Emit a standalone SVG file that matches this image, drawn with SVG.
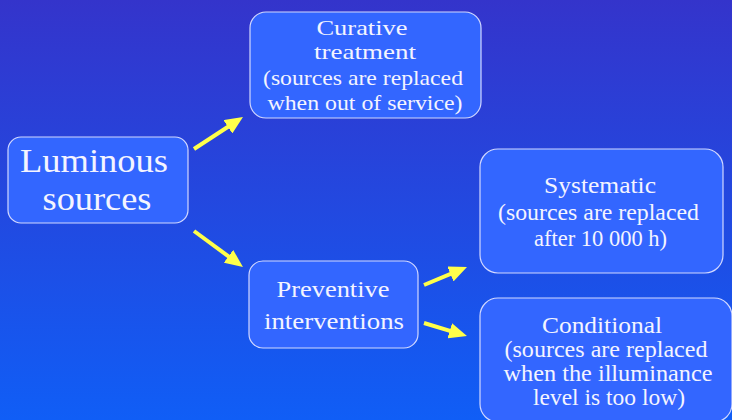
<svg xmlns="http://www.w3.org/2000/svg" width="732" height="420" viewBox="0 0 732 420">
  <defs>
    <linearGradient id="bg" x1="0" y1="0" x2="0" y2="1">
      <stop offset="0" stop-color="#3434CB"/>
      <stop offset="1" stop-color="#105EF6"/>
    </linearGradient>
    <marker id="head" viewBox="0 0 18 16" refX="8" refY="8" markerWidth="18" markerHeight="16" markerUnits="userSpaceOnUse" orient="auto">
      <path d="M0,0 L18,8 L0,16 z" fill="#FFFF4A"/>
    </marker>
    <style>
      .box { fill: #3366FF; stroke: #D2D8FF; stroke-width: 1.2; }
      .lbl { font-family: "Liberation Serif", "Times New Roman", serif; fill: #F4F4FF; text-anchor: middle; }
      .big { font-size: 34px; }
      .mid { font-size: 24px; }
      .sm { font-size: 23px; }
      .xs { font-size: 22px; }
      .arrow { stroke: #FFFF4A; stroke-width: 4; fill: none; marker-end: url(#head); }
    </style>
  </defs>

  <rect x="0" y="0" width="732" height="420" fill="url(#bg)"/>

  <g id="connectors">
    <line class="arrow" x1="194" y1="149" x2="234.6" y2="122.5"/>
    <line class="arrow" x1="194" y1="231" x2="234.9" y2="261.1"/>
    <line class="arrow" x1="424" y1="285" x2="457.8" y2="270.9"/>
    <line class="arrow" x1="424" y1="323" x2="457.4" y2="333.1"/>
  </g>

  <g id="luminous-sources">
    <rect class="box" x="8" y="137" width="180" height="86" rx="13"/>
    <text class="lbl big" x="94" y="172" textLength="148" lengthAdjust="spacingAndGlyphs">Luminous</text>
    <text class="lbl big" x="97" y="210" textLength="109" lengthAdjust="spacingAndGlyphs">sources</text>
  </g>

  <g id="curative">
    <rect class="box" x="250" y="12" width="231" height="106" rx="16"/>
    <text class="lbl xs" x="362" y="35" textLength="91" lengthAdjust="spacingAndGlyphs">Curative</text>
    <text class="lbl xs" x="365" y="59" textLength="102" lengthAdjust="spacingAndGlyphs">treatment</text>
    <text class="lbl xs" x="363" y="85" textLength="200" lengthAdjust="spacingAndGlyphs">(sources are replaced</text>
    <text class="lbl xs" x="365" y="110" textLength="195" lengthAdjust="spacingAndGlyphs">when out of service)</text>
  </g>

  <g id="preventive">
    <rect class="box" x="249" y="261" width="169" height="87" rx="14"/>
    <text class="lbl mid" x="333" y="297" textLength="113" lengthAdjust="spacingAndGlyphs">Preventive</text>
    <text class="lbl mid" x="334" y="329" textLength="140" lengthAdjust="spacingAndGlyphs">interventions</text>
  </g>

  <g id="systematic">
    <rect class="box" x="480" y="149" width="243" height="124" rx="18"/>
    <text class="lbl sm" x="600" y="193" textLength="112" lengthAdjust="spacingAndGlyphs">Systematic</text>
    <text class="lbl sm" x="598.5" y="220" textLength="201" lengthAdjust="spacingAndGlyphs">(sources are replaced</text>
    <text class="lbl sm" x="600.5" y="246" textLength="133" lengthAdjust="spacingAndGlyphs">after 10 000 h)</text>
  </g>

  <g id="conditional">
    <rect class="box" x="480" y="298" width="252" height="124" rx="18"/>
    <text class="lbl sm" x="602" y="333" textLength="120" lengthAdjust="spacingAndGlyphs">Conditional</text>
    <text class="lbl sm" x="606" y="357" textLength="203" lengthAdjust="spacingAndGlyphs">(sources are replaced</text>
    <text class="lbl sm" x="608" y="381" textLength="209" lengthAdjust="spacingAndGlyphs">when the illuminance</text>
    <text class="lbl sm" x="609" y="405" textLength="152" lengthAdjust="spacingAndGlyphs">level is too low)</text>
  </g>
</svg>
